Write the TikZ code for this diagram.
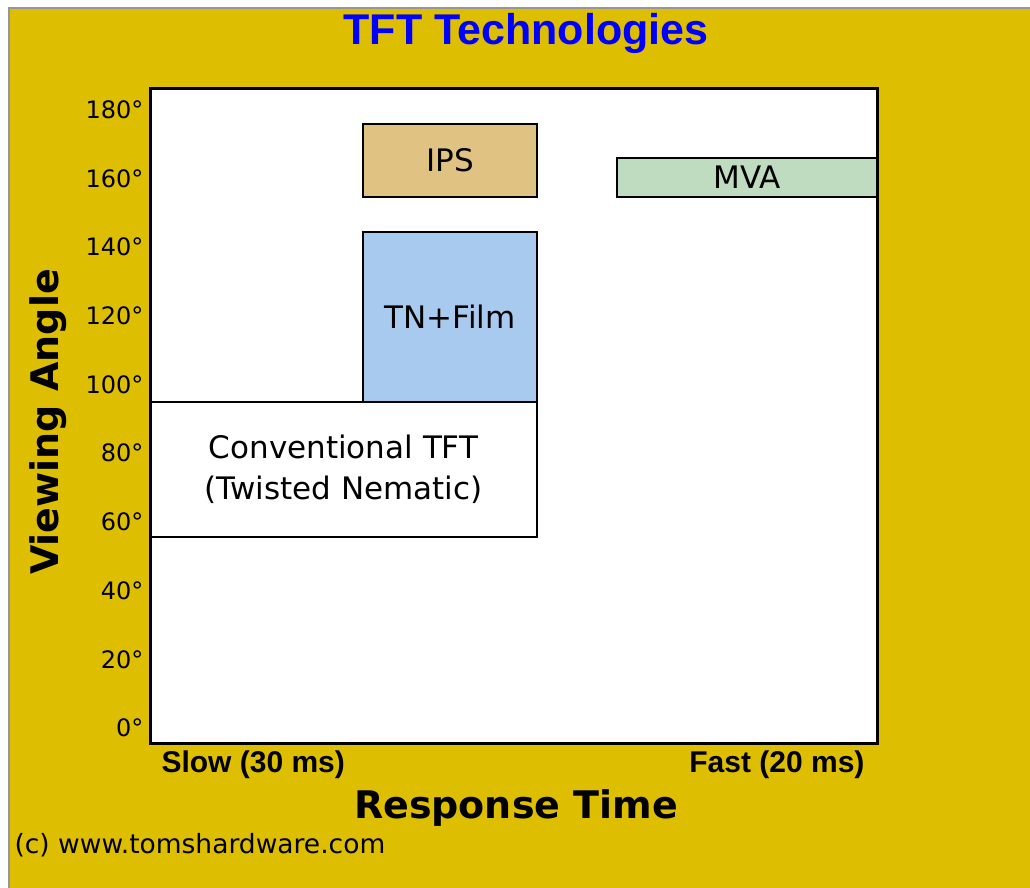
\documentclass[tikz,border=0pt]{standalone}
\usepackage{fontspec}
\setmainfont{DejaVu Sans}
\newfontfamily\arialfont{Liberation Sans}
\usetikzlibrary{positioning}

\definecolor{chartbg}{RGB}{222,190,0}
\definecolor{ipscol}{RGB}{224,194,130}
\definecolor{tncol}{RGB}{168,202,238}
\definecolor{mvacol}{RGB}{192,220,192}
\definecolor{framegray}{RGB}{150,150,150}

\begin{document}
\begin{tikzpicture}[
    x=1pt, y=-1pt,
    tech/.style={rectangle, draw=black, line width=1.5pt, inner sep=0pt, outer sep=0pt, align=center, font=\fontsize{31}{41}\selectfont},
    tick/.style={anchor=east, font=\fontsize{24}{24}\selectfont},
    axislabel/.style={anchor=base, font=\fontsize{38}{38}\selectfont\bfseries},
    speed/.style={font=\arialfont\fontsize{30}{30}\selectfont\bfseries}
]
    \useasboundingbox (0,0) rectangle (1030,888);
    \fill[white] (0,0) rectangle (1030,888);
    \filldraw[fill=chartbg, draw=framegray, line width=1.5pt] (9,8) rectangle (1034,892);

    \node[anchor=base, text=blue, font=\arialfont\fontsize{43}{43}\selectfont\bfseries] (title) at (526,45) {TFT Technologies};

    % plot area
    \fill[white] (150,89) rectangle (877,743);
    \node[tech, fill=tncol, minimum width=174pt, minimum height=170pt] (tn) at (450,317) {TN+Film};
    \node[tech, fill=white, minimum width=387pt, minimum height=135pt] (conv) at (343.5,469.5) {Conventional TFT\\(Twisted Nematic)};
    \node[tech, fill=ipscol, minimum width=174pt, minimum height=73pt] (ips) at (450,160.5) {IPS};
    \node[tech, fill=mvacol, minimum width=260pt, minimum height=39pt] (mva) at (747,177.5) {MVA};
    \node[draw=black, line width=3pt, inner sep=0pt, minimum width=727pt, minimum height=654pt] (plot) at (513.5,416) {};

    % axes
    \foreach \v in {0,20,...,180}
        \node[tick] (t\v) at (147,{728-3.435*\v}) {\v°};
    \node[axislabel, rotate=90] (vangle) at (58,422) {Viewing Angle};
    \node[speed, anchor=base west] (slow) at (158,772) {Slow (30 ms)};
    \node[speed, anchor=base east] (fast) at (868,772) {Fast (20 ms)};
    \node[axislabel] (rtime) at (516,818) {Response Time};

    \node[anchor=base west, font=\fontsize{26.5}{26.5}\selectfont] (copy) at (11,853) {(c) www.tomshardware.com};
\end{tikzpicture}
\end{document}
